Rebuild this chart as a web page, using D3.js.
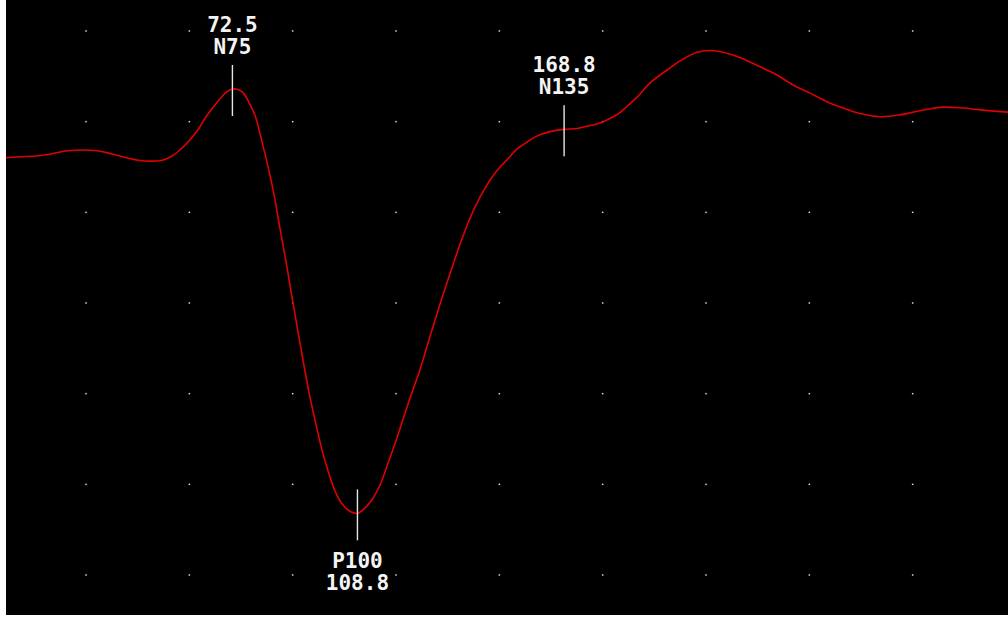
<!DOCTYPE html>
<html>
<head>
<meta charset="utf-8">
<script src="https://cdn.jsdelivr.net/npm/d3@7"></script>
<style>
  body { margin: 0; background: #fff; }
  svg { display: block; }
  .peak-label { font-family: "DejaVu Sans Mono", monospace; font-size: 21px; font-weight: bold; fill: #f4f4f4; }
</style>
</head>
<body>
<svg id="chart"></svg>
<script>
// latency (ms) of each sample
const times = [0, 6.8, 17.5, 24.8, 33.2, 37.8, 45.1, 52.1, 55.3, 57.9,
  60.2, 62.5, 64.6, 67.0, 69.4, 70.9, 72.5, 74.1, 75.7, 78.1,
  79.1, 81.4, 82.8, 84.6, 86.3, 88.1, 89.8, 91.6, 93.3, 95.0,
  96.8, 98.5, 100.3, 102.3, 104.3, 106.7, 108.8, 111.0, 113.0, 115.4,
  117.7, 120.0, 122.3, 124.7, 127.0, 129.3, 131.6, 133.9, 136.3, 138.6,
  140.9, 143.2, 145.6, 147.9, 150.2, 152.6, 155.0, 157.5, 159.4, 161.8,
  164.7, 168.8, 172.5, 175.4, 178.3, 180.2, 182.1, 184.5, 187.1, 190.0,
  193.7, 198.7, 202.5, 207.4, 211.2, 216.1, 220.7, 225.7, 230.6, 235.3,
  240.2, 245.1, 249.8, 254.7, 260.5, 266.3, 272.1, 278.8, 284.6, 289.6,
  297.7, 300];

// amplitude (uV), positive plotted downwards
const amps = [-3.18, -3.21, -3.26, -3.36, -3.36, -3.28, -3.15, -3.15, -3.26, -3.42,
  -3.60, -3.82, -4.08, -4.33, -4.55, -4.66, -4.72, -4.71, -4.63, -4.30,
  -4.13, -3.46, -3.02, -2.38, -1.65, -0.90, -0.13, 0.66, 1.39, 2.07,
  2.69, 3.24, 3.71, 4.15, 4.43, 4.60, 4.64, 4.52, 4.34, 4.01,
  3.53, 3.04, 2.50, 1.96, 1.46, 0.88, 0.31, -0.24, -0.79, -1.30,
  -1.76, -2.16, -2.50, -2.78, -3.00, -3.19, -3.39, -3.52, -3.62, -3.71,
  -3.78, -3.83, -3.85, -3.90, -3.95, -4.00, -4.07, -4.17, -4.34, -4.54,
  -4.85, -5.14, -5.34, -5.53, -5.57, -5.51, -5.39, -5.21, -5.03, -4.81,
  -4.63, -4.44, -4.30, -4.18, -4.11, -4.15, -4.24, -4.32, -4.30, -4.26,
  -4.21, -4.20];

const peakNames = ["N75", "P100", "N135"];
const peakLatencies = [72.5, 108.8, 168.8];

// grid dot positions
const gridTimes = [30, 60, 90, 120, 150, 180, 210, 240, 270];
const gridAmps = [-6, -4, -2, 0, 2, 4, 6];

class EvokedTrace {

  constructor(_config) {
    this.config = {
      parentElement: _config.parentElement,
      containerWidth: _config.containerWidth || 1008,
      containerHeight: _config.containerHeight || 619,
      plot: _config.plot || {left: 6, top: 0, right: 1008, bottom: 615}
    };
    this.initVis();
  }

  initVis() {
    let vis = this;
    const p = vis.config.plot;

    vis.svg = d3.select(vis.config.parentElement)
        .attr('width', vis.config.containerWidth)
        .attr('height', vis.config.containerHeight);

    // the recording window is wider than the visible screen, so the range runs past the edges
    vis.xScale = d3.scaleLinear()
        .domain([0, 300])
        .range([-17.3, 1016]);

    vis.yScale = d3.scaleLinear()
        .domain([-6, 6])
        .range([31, 575]);

    vis.svg.append('defs').append('clipPath')
        .attr('id', 'plot-clip')
      .append('rect')
        .attr('x', p.left).attr('y', p.top)
        .attr('width', p.right - p.left).attr('height', p.bottom - p.top);

    vis.svg.append('rect')
        .attr('x', p.left).attr('y', p.top)
        .attr('width', p.right - p.left).attr('height', p.bottom - p.top)
        .attr('fill', '#000');

    vis.chart = vis.svg.append('g').attr('clip-path', 'url(#plot-clip)');

    vis.renderVis();
  }

  renderVis() {
    let vis = this;

    // dotted grid
    const dots = gridAmps.flatMap(a => gridTimes.map(t => ({t: t, a: a})));
    vis.chart.append('g')
      .selectAll('rect')
      .data(dots)
      .join('rect')
        .attr('x', d => vis.xScale(d.t) - 0.75)
        .attr('y', d => vis.yScale(d.a) - 0.75)
        .attr('width', 1.5)
        .attr('height', 1.5)
        .attr('fill', '#d8d8d8');

    // the waveform
    const trace = times.map((t, i) => ({t: t, a: amps[i]}));
    const line = d3.line()
        .x(d => vis.xScale(d.t))
        .y(d => vis.yScale(d.a))
        .curve(d3.curveCatmullRom.alpha(0.5));

    vis.chart.append('path')
        .datum(trace)
        .attr('fill', 'none')
        .attr('stroke', '#e00000')
        .attr('stroke-width', 1.6)
        .attr('d', line);

    // peak markers, amplitude taken from the trace at each latency
    const ampAt = d3.scaleLinear().domain(times).range(amps);
    const peaks = peakNames.map((name, i) => {
      const t = peakLatencies[i];
      return {name: name, t: t, a: ampAt(t), up: name[0] === 'N'};
    });

    const marks = vis.chart.append('g')
      .selectAll('g')
      .data(peaks)
      .join('g')
        .attr('transform', d => `translate(${vis.xScale(d.t)},${vis.yScale(d.a)})`);

    marks.append('line')
        .attr('y1', -24)
        .attr('y2', 27)
        .attr('stroke', '#e6e6e6')
        .attr('stroke-width', 1.4);

    marks.append('text')
        .attr('class', 'peak-label')
        .attr('text-anchor', 'middle')
        .attr('y', d => d.up ? -35 : 55)
        .text(d => d.name);

    marks.append('text')
        .attr('class', 'peak-label')
        .attr('text-anchor', 'middle')
        .attr('y', d => d.up ? -57 : 77)
        .text(d => d3.format('.1f')(d.t));
  }
}

new EvokedTrace({parentElement: '#chart'});
</script>
</body>
</html>
